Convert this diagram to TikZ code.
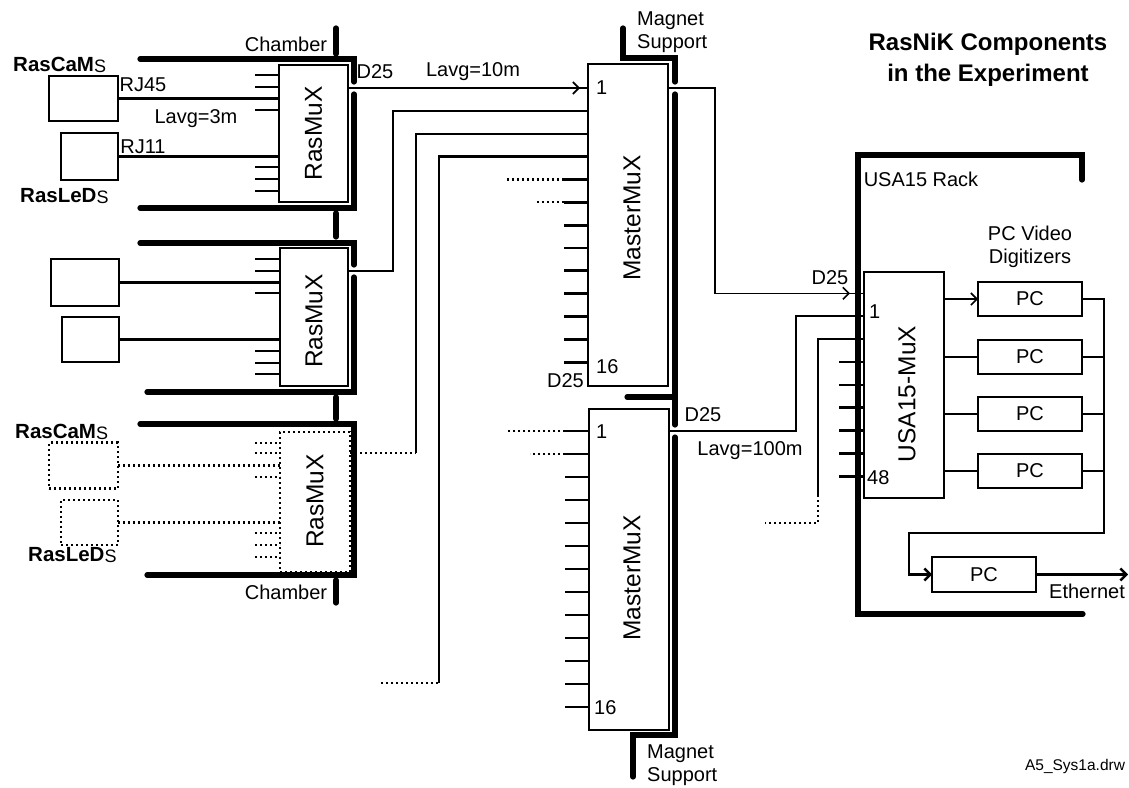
\documentclass[tikz,border=0pt]{standalone}
\usepackage{fontspec}
\setmainfont{Liberation Sans}
\usetikzlibrary{arrows.meta,calc}
\newcommand{\smS}{{\mdseries\fontsize{18}{18}\selectfont\raisebox{-1.5pt}{S}}}

\begin{document}
\begin{tikzpicture}[x=1pt, y=-1pt, >={Straight Barb[length=6pt,width=12pt]},
    box/.style={draw, line width=1.5pt, inner sep=0pt, outer sep=0pt, font=\fontsize{20}{23}\selectfont},
    dotbox/.style={box, line width=2.2pt, dash pattern=on 2pt off 3pt},
    wall/.style={line width=5.2pt, line cap=round},
    pin/.style={line width=2.8pt},
    link/.style={line width=1.6pt},
    cable/.style={line width=2.4pt},
    dots/.style={line width=2.2pt, dash pattern=on 2pt off 3pt},
    txt/.style={font=\fontsize{20}{23}\selectfont, inner sep=0pt},
    big/.style={font=\fontsize{24.5}{26}\selectfont, inner sep=0pt, rotate=90},
    bold/.style={font=\bfseries\fontsize{20.5}{23}\selectfont, inner sep=0pt}]
    \useasboundingbox (0,0) rectangle (1129,787);

    % Chamber walls
    \draw[wall] (140,59) -| (354,82);
    \draw[wall] (354,94) |- (140,208);
    \draw[wall] (140,243) -| (354,265);
    \draw[wall] (354,277) |- (147,392);
    \draw[wall] (140,424) -| (354,575) -- (147,575);
    \foreach \a/\b in {28/54, 213/237, 397/419, 580/603}
        \draw[wall] (336,\a) -- (336,\b);

    % Magnet support
    \draw[wall] (623,28) |- (675,58) -- (675,82);
    \draw[wall] (675,94) -- (675,425);
    \draw[wall] (675,437) |- (633,735) -- (633,777);
    \draw[wall] (627,397) -- (675,397);

    % USA15 rack
    \draw[wall] (1082,180) |- (858,155) |- (1083,614);

    % RasCaMs, RasLeDs and RasMuX
    \node[box, minimum width=69pt, minimum height=45pt] (cam1) at (83.5,98.5) {};
    \node[box, minimum width=57pt, minimum height=47pt] (led1) at (89.5,156.5) {};
    \node[box, minimum width=69pt, minimum height=137pt] (rm1) at (313.5,133.5) {};
    \node[box, minimum width=68pt, minimum height=47pt] (cam2) at (85,282.5) {};
    \node[box, minimum width=57pt, minimum height=45pt] (led2) at (90.5,339.5) {};
    \node[box, minimum width=68pt, minimum height=138pt] (rm2) at (314,317) {};
    \node[dotbox, minimum width=69pt, minimum height=46pt] (cam3) at (83.5,465.5) {};
    \node[dotbox, minimum width=57pt, minimum height=45pt] (led3) at (89.5,522.5) {};
    \node[dotbox, minimum width=70pt, minimum height=140pt] (rm3) at (315,502) {};
    \node[big] (rm1lbl) at (rm1) {RasMuX};
    \node[big] (rm2lbl) at (314,321) {RasMuX};
    \node[big] (rm3lbl) at (315,501) {RasMuX};

    % MasterMuX and USA15-MuX
    \node[box, minimum width=80pt, minimum height=322pt] (mm1) at (628,225) {};
    \node[box, minimum width=80pt, minimum height=321pt] (mm2) at (629,569.5) {};
    \node[box, minimum width=80pt, minimum height=226pt] (usa) at (904,385) {};
    \node[big] (mm1lbl) at (632,218) {MasterMuX};
    \node[big] (mm2lbl) at (632,578) {MasterMuX};
    \node[big] (usalbl) at (907,394) {USA15-MuX};

    % PCs
    \foreach \n/\y in {pc1/299, pc2/357, pc3/414, pc4/471}
        \node[box, minimum width=104pt, minimum height=34pt] (\n) at (1030,\y) {PC};
    \node[box, minimum width=104pt, minimum height=35pt] (pc5) at (984,574.5) {PC};

    % pins
    \foreach \y in {75,87,110,167,179,191} \draw[pin] (255,\y) -- (279,\y);
    \foreach \y in {259,271,293,351,363,374} \draw[pin] (255,\y) -- (280,\y);
    \foreach \y in {443,453,477,533,545,557} \draw[dots] (255,\y) -- (280,\y);
    \foreach \i in {1,...,13} \coordinate (m1p\i) at (588,{88+(\i-1)*22.85});
    \foreach \i in {1,...,13} \coordinate (m2p\i) at (589,{431+(\i-1)*23});
    \foreach \i in {1,...,9} \coordinate (up\i) at (864,{293.3+(\i-1)*22.9});
    \foreach \i in {5,...,13} \draw[pin] (m1p\i) -- ++(-24,0);
    \foreach \i in {1,...,13} \draw[pin] (m2p\i) -- ++(-24,0);
    \foreach \i in {4,...,9} \draw[pin] (up\i) -- ++(-25,0);
    \draw[dots] ([xshift=-24pt]m1p5) -- ++(-57,0);
    \draw[dots] ([xshift=-24pt]m1p6) -- ++(-29,0);
    \draw[dots] ([xshift=-24pt]m2p1) -- ++(-58,0);
    \draw[dots] ([xshift=-24pt]m2p2) -- ++(-35,0);

    % short cables
    \draw[cable] (cam1.east) -- (cam1.east -| rm1.west);
    \draw[cable] (led1.east) -- (led1.east -| rm1.west);
    \draw[cable] (cam2.east) -- (cam2.east -| rm2.west);
    \draw[cable] (led2.east) -- (led2.east -| rm2.west);
    \draw[dots] (cam3.east) -- (cam3.east -| rm3.west);
    \draw[dots] (led3.east) -- (led3.east -| rm3.west);

    % RasMuX to MasterMuX
    \draw[link,->] (rm1.east |- m1p1) -- ([xshift=-8pt]m1p1);
    \draw[link] ([xshift=-9pt]m1p1) -- (m1p1);
    \draw[cable] (rm2.east |- 0,271) -| (m1p2 -| 393,0) -- (m1p2);
    \draw[dots] (rm3.east |- 0,453) -- (416,453);
    \draw[cable] (416,453) |- (m1p3);
    \draw[dots] (381,683) -- (439,683);
    \draw[cable] (439,683) |- (m1p4);

    % MasterMuX to USA15-MuX
    \draw[link,->] (mm1.east |- m1p1) -| (up1 -| 715,0) -- ([xshift=-14pt]up1);
    \draw[link] ([xshift=-15pt]up1) -- (up1);
    \draw[link] (mm2.east |- m2p1) -| (up2 -| 796,0) -- (up2);
    \draw[cable] (up3) -| (818,495);
    \draw[dots] (818,495) |- (765,523);

    % digitizers
    \draw[link,->] (usa.east |- pc1) -- (pc1.west);
    \foreach \n in {pc2,pc3,pc4} {
        \draw[cable] (usa.east |- \n) -- (\n.west);
        \draw[cable] (\n.east) -- (\n.east -| 1104,0);
    }
    \draw[cable,->] (pc1.east) -| (1104,533) -| (pc5.west -| 909,0) -- (pc5.west);
    \draw[cable,->] (pc5.east) -- (1128,574.5);

    % labels
    \node[font=\bfseries\fontsize{24}{31}\selectfont, align=center, inner sep=0pt] (title) at (988,59.5) {RasNiK Components\\in the Experiment};
    \node[bold, anchor=west] (cam1txt) at (13,65) {RasCaM\smS};
    \node[bold, anchor=west] (led1txt) at (20,196) {RasLeD\smS};
    \node[bold, anchor=west] (cam3txt) at (15,432) {RasCaM\smS};
    \node[bold, anchor=west] (led3txt) at (28,555) {RasLeD\smS};
    \node[txt] (rj45) at (143,85) {RJ45};
    \node[txt] (l3m) at (196,119) {Lavg=3m};
    \node[txt] (rj11) at (143,147) {RJ11};
    \node[txt] (ch1) at (286,44) {Chamber};
    \node[txt] (ch2) at (286,592) {Chamber};
    \node[txt] (d25a) at (375,72) {D25};
    \node[txt] (l10m) at (473,72) {Lavg=10m};
    \node[txt, align=left, anchor=west] (ms1) at (637,32.5) {Magnet\\Support};
    \node[txt, align=left, anchor=west] (ms2) at (647,765) {Magnet\\Support};
    \node[txt, anchor=west] (n1a) at (596,88) {1};
    \node[txt, anchor=west] (n16a) at (596,367) {16};
    \node[txt, anchor=east] (d25b) at (584,381) {D25};
    \node[txt, anchor=west] (n1b) at (596,432) {1};
    \node[txt, anchor=west] (n16b) at (594,708) {16};
    \node[txt] (d25c) at (703,415) {D25};
    \node[txt] (l100m) at (750,451) {Lavg=100m};
    \node[txt] (d25d) at (830,278) {D25};
    \node[txt, anchor=west] (n1c) at (869,312) {1};
    \node[txt, anchor=west] (n48) at (867,478) {48};
    \node[txt] (rack) at (921,179) {USA15 Rack};
    \node[txt, align=center] (pcv) at (1030,247) {PC Video\\Digitizers};
    \node[txt] (eth) at (1087,591) {Ethernet};
    \node[font=\fontsize{15.5}{18}\selectfont, inner sep=0pt] (file) at (1075,766) {A5\_Sys1a.drw};
\end{tikzpicture}
\end{document}
